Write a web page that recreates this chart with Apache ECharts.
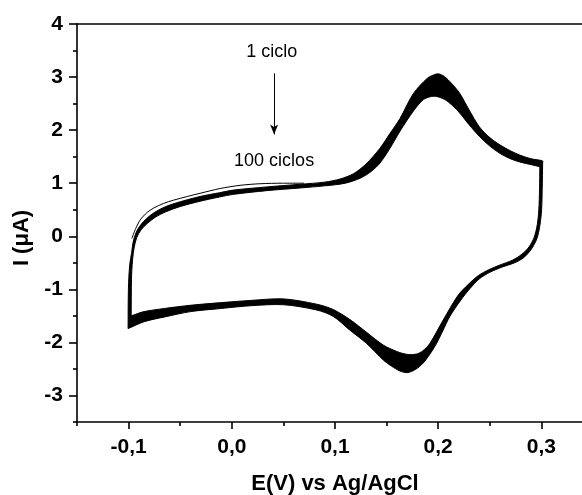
<!DOCTYPE html>
<html><head><meta charset="utf-8">
<script src="https://cdn.jsdelivr.net/npm/echarts@6/dist/echarts.min.js"></script>
<style>html,body{margin:0;padding:0;background:#fff}#c{width:582px;height:495px}</style>
</head><body><div id="c"></div>
<script>
// ---- Data (E in V vs Ag/AgCl, I in µA) ----
// Outer envelope of the 100 overlapping cycles: anodic sweep then cathodic sweep
const outerAnodicE = [-0.1005,-0.1002,-0.0990,-0.0970,-0.0955,-0.0925,-0.0880,-0.0823,-0.0740,-0.0640,-0.0500,-0.0307,-0.0120,0.0015,0.0339,0.0660,0.0900,0.1050,0.1180,0.1300,0.1436,0.1530,0.1630,0.1760,0.1890,0.1955,0.2005,0.2060,0.2130,0.2210,0.2300,0.2400,0.2500,0.2600,0.2700,0.2790,0.2900,0.3012];
const outerAnodicI = [-1.74,-1.00,-0.55,-0.30,-0.10,0.08,0.22,0.34,0.46,0.56,0.65,0.75,0.82,0.87,0.93,0.98,1.02,1.08,1.18,1.36,1.66,1.93,2.22,2.69,2.97,3.04,3.06,3.01,2.88,2.69,2.38,2.06,1.86,1.72,1.61,1.53,1.46,1.42];
const outerCathodicE = [0.3012,0.3008,0.3002,0.2985,0.2955,0.2900,0.2830,0.2740,0.2620,0.2500,0.2400,0.2310,0.2220,0.2113,0.2045,0.1984,0.1920,0.1854,0.1780,0.1700,0.1630,0.1550,0.1467,0.1306,0.1145,0.0983,0.0823,0.0500,0.0177,-0.0100,-0.0400,-0.0650,-0.0850,-0.1005];
const outerCathodicI = [1.38,0.90,0.50,0.20,-0.05,-0.25,-0.40,-0.50,-0.58,-0.68,-0.80,-0.98,-1.20,-1.51,-1.78,-2.02,-2.22,-2.39,-2.51,-2.57,-2.54,-2.45,-2.33,-2.02,-1.77,-1.51,-1.39,-1.29,-1.31,-1.36,-1.42,-1.52,-1.61,-1.74];
// Inner envelope of the band
const innerAnodicE = [-0.0975,-0.0972,-0.0962,-0.0945,-0.0920,-0.0880,-0.0820,-0.0740,-0.0640,-0.0500,-0.0307,-0.0120,0.0015,0.0339,0.0660,0.0900,0.1100,0.1250,0.1350,0.1436,0.1530,0.1630,0.1760,0.1860,0.1960,0.2060,0.2140,0.2210,0.2300,0.2400,0.2500,0.2600,0.2700,0.2790,0.2900,0.2985];
const innerAnodicI = [-1.50,-0.80,-0.45,-0.20,-0.02,0.12,0.24,0.36,0.46,0.56,0.66,0.74,0.79,0.86,0.91,0.95,1.00,1.10,1.22,1.38,1.65,1.98,2.36,2.58,2.64,2.58,2.46,2.32,2.10,1.88,1.70,1.56,1.46,1.40,1.35,1.31];
const innerCathodicE = [0.2985,0.2982,0.2975,0.2960,0.2930,0.2880,0.2810,0.2720,0.2600,0.2490,0.2390,0.2290,0.2190,0.2048,0.1919,0.1850,0.1790,0.1720,0.1660,0.1597,0.1467,0.1306,0.1145,0.0983,0.0823,0.0500,0.0177,-0.0100,-0.0400,-0.0650,-0.0850,-0.0975];
const innerCathodicI = [1.31,0.90,0.50,0.22,-0.02,-0.20,-0.34,-0.45,-0.54,-0.63,-0.74,-0.91,-1.12,-1.58,-2.02,-2.16,-2.22,-2.23,-2.21,-2.17,-2.05,-1.81,-1.57,-1.38,-1.28,-1.18,-1.21,-1.25,-1.30,-1.36,-1.42,-1.50];
// First cycle (thin line visible at the start of the anodic sweep)
const firstCycleE = [-0.0968,-0.0930,-0.0887,-0.0820,-0.0759,-0.0660,-0.0565,-0.0430,-0.0307,-0.0113,0.0080,0.0274,0.0500,0.0700];
const firstCycleI = [-0.04,0.15,0.31,0.45,0.53,0.62,0.68,0.75,0.81,0.90,0.96,0.99,1.00,1.00];
// Ticks
const xMajorTicks = [-0.1,0,0.1,0.2,0.3];
const xMinorTicks = [-0.15,-0.05,0.05,0.15,0.25];
const yMajorTicks = [-3,-2,-1,0,1,2,3,4];
const yMinorTicks = [-3.5,-2.5,-1.5,-0.5,0.5,1.5,2.5,3.5];
// Annotation
const annotTop = {text:'1 ciclo', E:0.0387, I:3.48};
const annotBottom = {text:'100 ciclos', E:0.041, I:1.41};
const arrowE = 0.041, arrowFromI = 3.07, arrowToI = 1.92;

const FONT = '"Liberation Sans", Arial, sans-serif';
const outerE = outerAnodicE.concat(outerCathodicE), outerI = outerAnodicI.concat(outerCathodicI);
const innerE = innerAnodicE.concat(innerCathodicE), innerI = innerAnodicI.concat(innerCathodicI);

function polygonSeries(Es, Is, fill, z) {
  return {
    type:'custom', xAxisIndex:0, yAxisIndex:0, z:z, silent:true, clip:true,
    data:[[Es[0], Is[0]]],
    renderItem:function(params, api){
      const pts = Es.map((e,i)=>api.coord([e, Is[i]]));
      return {type:'polygon', shape:{points:pts, smooth:0.3},
        style:{fill:fill, stroke:'#000', lineWidth:1}};
    }
  };
}

const chart = echarts.init(document.getElementById('c'), null, {renderer:'canvas'});
const axisLineStyle = {color:'#000', width:1.6};
chart.setOption({
  animation:false,
  backgroundColor:'#fff',
  grid:{left:77, right:-11, top:24, bottom:73, containLabel:false, outerBoundsMode:'none'},
  xAxis:[
    {type:'value', min:-0.15, max:0.35, position:'bottom',
     axisLine:{show:true, onZero:false, lineStyle:axisLineStyle},
     axisTick:{show:true, customValues:xMajorTicks, length:7, lineStyle:{color:'#000', width:1.6}},
     axisLabel:{customValues:xMajorTicks, margin:15, color:'#000', fontFamily:FONT, fontWeight:'bold', fontSize:21,
       formatter:v=>v.toFixed(1).replace('.',',')},
     splitLine:{show:false},
     name:'E(V) vs Ag/AgCl', nameLocation:'middle', nameGap:51,
     nameTextStyle:{color:'#000', fontFamily:FONT, fontWeight:'bold', fontSize:22}},
    {type:'value', min:-0.15, max:0.35, position:'bottom',
     axisLine:{show:false, onZero:false},
     axisTick:{show:true, customValues:xMinorTicks, length:4, lineStyle:{color:'#000', width:1.6}},
     axisLabel:{show:false}, splitLine:{show:false}},
    {type:'value', min:-0.15, max:0.35, position:'top',
     axisLine:{show:true, onZero:false, lineStyle:axisLineStyle},
     axisTick:{show:false}, axisLabel:{show:false}, splitLine:{show:false}}
  ],
  yAxis:[
    {type:'value', min:-3.5, max:4, position:'left',
     axisLine:{show:true, onZero:false, lineStyle:axisLineStyle},
     axisTick:{show:true, customValues:yMajorTicks, length:8, lineStyle:{color:'#000', width:1.6}},
     axisLabel:{customValues:yMajorTicks, margin:14, color:'#000', fontFamily:FONT, fontWeight:'bold', fontSize:21,
       formatter:v=>String(v)},
     splitLine:{show:false},
     name:'I (μA)', nameLocation:'middle', nameGap:42,
     nameTextStyle:{color:'#000', fontFamily:FONT, fontWeight:'bold', fontSize:22, padding:[0,30,0,0]}},
    {type:'value', min:-3.5, max:4, position:'left',
     axisLine:{show:false, onZero:false},
     axisTick:{show:true, customValues:yMinorTicks, length:4, lineStyle:{color:'#000', width:1.6}},
     axisLabel:{show:false}, splitLine:{show:false}}
  ],
  series:[
    polygonSeries(outerE, outerI, '#000', 2),
    polygonSeries(innerE, innerI, '#fff', 3),
    {type:'line', xAxisIndex:0, yAxisIndex:0, z:4, symbol:'none', smooth:0.3,
     data:firstCycleE.map((e,i)=>[e, firstCycleI[i]]),
     lineStyle:{color:'#000', width:1},
     markLine:{silent:true, symbol:['none','arrow'], symbolSize:[6,10], label:{show:false},
       lineStyle:{color:'#000', width:1, type:'solid'},
       data:[[{coord:[arrowE, arrowFromI]},{coord:[arrowE, arrowToI]}]]}}
  ]
});

function place(a){
  const p = chart.convertToPixel({xAxisIndex:0, yAxisIndex:0}, [a.E, a.I]);
  return {type:'text', x:p[0], y:p[1], z:100,
    style:{text:a.text, fill:'#000', font:'18px ' + FONT, textAlign:'center', textVerticalAlign:'middle'}};
}
chart.setOption({graphic:[place(annotTop), place(annotBottom)]});
</script></body></html>
